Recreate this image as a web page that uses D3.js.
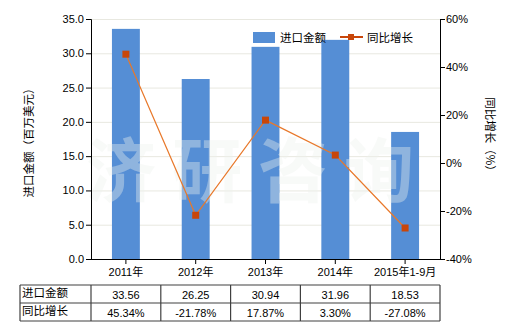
<!DOCTYPE html>
<html><head><meta charset="utf-8">
<script src="https://cdn.jsdelivr.net/npm/d3@7"></script>
<style>
body{margin:0;background:#fff;}
text{font-family:"Liberation Sans","Noto Sans CJK SC",sans-serif;}
</style></head>
<body><svg id="c" width="520" height="330"></svg>
<script>
const categories = ["2011年","2012年","2013年","2014年","2015年1-9月"];
const importValues = [33.56, 26.25, 30.94, 31.96, 18.53];
const growthValues = [45.34, -21.78, 17.87, 3.30, -27.08];
const importLabels = ["33.56","26.25","30.94","31.96","18.53"];
const growthLabels = ["45.34%","-21.78%","17.87%","3.30%","-27.08%"];
const leftTicks = [0,5,10,15,20,25,30,35];
const rightTicks = [-40,-20,0,20,40,60];
const seriesNames = ["进口金额","同比增长"];

const svg = d3.select("#c");
const L=91, R=440, T=19, B=259;
const x = d3.scaleBand().domain(categories).range([L,R]).padding(0);
const yL = d3.scaleLinear().domain([0,35]).range([B,T]);
const yR = d3.scaleLinear().domain([-40,60]).range([B,T]);
const barColor="#558ed5", lineColor="#e8782a", markColor="#c8460a";

// grid
svg.append("g").selectAll("line").data(leftTicks.filter(d=>d>0)).join("line")
  .attr("x1",L).attr("x2",R).attr("y1",d=>yL(d)+0.5).attr("y2",d=>yL(d)+0.5)
  .attr("stroke","#e8e8e0").attr("stroke-width",1);

// bars
const bw = x.bandwidth()*0.4;
svg.append("g").selectAll("rect").data(importValues).join("rect")
  .attr("x",(d,i)=>x(categories[i])+x.bandwidth()/2-bw/2)
  .attr("width",bw)
  .attr("y",d=>yL(d)).attr("height",d=>B-yL(d))
  .attr("fill",barColor);

// watermark
svg.append("text").attr("x",258).attr("y",197).attr("text-anchor","middle")
  .attr("font-size",70).attr("font-weight","bold").attr("letter-spacing",16)
  .style("font-family","Noto Sans CJK SC")
  .attr("fill","#eef2ee").attr("opacity",0.38).text("济研咨询");

// line
const cx = (i)=>x(categories[i])+x.bandwidth()/2;
svg.append("path").datum(growthValues)
  .attr("d",d3.line().x((d,i)=>cx(i)).y(d=>yR(d)))
  .attr("fill","none").attr("stroke",lineColor).attr("stroke-width",1.2);
svg.append("g").selectAll("rect").data(growthValues).join("rect")
  .attr("x",(d,i)=>cx(i)-3.5).attr("y",d=>yR(d)-3.5)
  .attr("width",7).attr("height",7).attr("fill",markColor);

// axes
const axL = svg.append("g").attr("transform",`translate(${L},0)`)
  .call(d3.axisLeft(yL).tickValues(leftTicks).tickFormat(d3.format(".1f")).tickSizeOuter(0).tickSize(5));
const axR = svg.append("g").attr("transform",`translate(${R},0)`)
  .call(d3.axisRight(yR).tickValues(rightTicks).tickFormat(d=>d+"%").tickSizeOuter(0).tickSize(5));
const axB = svg.append("g").attr("transform",`translate(0,${B})`)
  .call(d3.axisBottom(x).tickSizeOuter(0).tickSize(5));
[axL,axR,axB].forEach(g=>{
  g.selectAll("path,line").attr("stroke","#000");
  g.selectAll("text").attr("font-size",11).attr("fill","#000")
   .style("font-family","'Liberation Sans','Noto Sans CJK SC',sans-serif");
});
axL.selectAll("text").attr("x",-7);
axR.selectAll("text").attr("x",6);
axB.selectAll("text").attr("dy","0.71em").attr("y",9);
axB.select(".domain").attr("d",`M${L},0.5H${R}`);

// axis titles
svg.append("text").attr("transform","translate(33,140) rotate(-90)")
  .attr("text-anchor","middle").attr("font-size",11.5).style("font-family","Noto Sans CJK SC")
  .text("进口金额（百万美元）");
svg.append("text").attr("transform","translate(486,137) rotate(90)")
  .attr("text-anchor","middle").attr("font-size",11.5).style("font-family","Noto Sans CJK SC")
  .text("同比增长（%）");

// legend
const lg = svg.append("g");
lg.append("rect").attr("x",253).attr("y",32).attr("width",22).attr("height",11).attr("fill",barColor);
lg.append("text").attr("x",280).attr("y",38).attr("dy","0.35em").attr("font-size",11.5)
  .style("font-family","Noto Sans CJK SC").text(seriesNames[0]);
lg.append("line").attr("x1",340).attr("x2",363).attr("y1",37).attr("y2",37)
  .attr("stroke",markColor).attr("stroke-width",2);
lg.append("rect").attr("x",348).attr("y",34).attr("width",6).attr("height",6).attr("fill",markColor);
lg.append("text").attr("x",367).attr("y",38).attr("dy","0.35em").attr("font-size",11.5)
  .style("font-family","Noto Sans CJK SC").text(seriesNames[1]);

// table
const tT=285, tM=303, tB=321, tL=20;
const tbl = svg.append("g").attr("stroke","#404040").attr("stroke-width",1.2);
[tT,tM,tB].forEach(y=>tbl.append("line").attr("x1",tL).attr("x2",R).attr("y1",y).attr("y2",y));
const colEdges=[tL].concat(categories.map(c=>x(c))).concat([R]);
colEdges.forEach(xx=>tbl.append("line").attr("x1",xx).attr("x2",xx).attr("y1",tT).attr("y2",tB));
const rows=[[seriesNames[0],importLabels],[seriesNames[1],growthLabels]];
rows.forEach((r,ri)=>{
  const yc = (ri===0? (tT+tM)/2 : (tM+tB)/2);
  svg.append("text").attr("x",tL+2).attr("y",yc-1).attr("dy","0.35em").attr("font-size",11.5)
    .style("font-family","Noto Sans CJK SC").text(r[0]);
  svg.append("g").selectAll("text").data(r[1]).join("text")
    .attr("x",(d,i)=>cx(i)).attr("y",yc+1).attr("dy","0.35em").attr("text-anchor","middle")
    .attr("font-size",11).text(d=>d);
});
</script></body></html>
